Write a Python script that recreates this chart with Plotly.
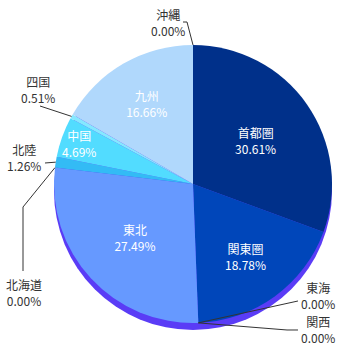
import math
import plotly.graph_objects as go

# ---- data ----
regions = ["首都圏", "関東圏", "東海", "関西", "東北", "北海道", "北陸", "中国", "四国", "九州", "沖縄"]
shares = [30.61, 18.78, 0.00, 0.00, 27.49, 0.00, 1.26, 4.69, 0.51, 16.66, 0.00]
colors = ["#00308A", "#0046BA", "#3A5FE0", "#4A70F0", "#6699FF", "#55AAF5",
          "#33BBF5", "#52DCFF", "#85E8FF", "#B0D8FC", "#C8E4FC"]
outside = ["東海", "関西", "北海道", "北陸", "四国", "沖縄"]
inside_annotated = ["中国"]  # narrow slice: keep full-size label

# ---- layout constants (pixels) ----
W, H = 340, 345
CX, CY, R = 193, 184, 139
SHADOW_DY = 7
FONT = "Noto Sans CJK JP"
label_pos = {  # label block centre and leader-line bend points (after slice anchor)
    "沖縄": ((168, 22), [(187, 22), (183, 22)]),
    "四国": ((38, 89), [(40, 106)]),
    "北陸": ((24, 158), [(45, 163)]),
    "北海道": ((24, 292), [(23, 207), (23, 271)]),
    "東海": ((318, 295), [(298, 301)]),
    "関西": ((318, 329), [(287, 330), (298, 330)]),
}

def px(x):
    return x / W

def py(y):
    return 1 - y / H

dom_x = [px(CX - R), px(CX + R)]
dom_y = [py(CY + R), py(CY - R)]

total = sum(shares)
text = []
tpos = []
for lab, v in zip(regions, shares):
    if lab in outside or lab in inside_annotated:
        text.append("")
        tpos.append("none")
    else:
        text.append(f"{lab}<br>{v:.2f}%")
        tpos.append("inside")

fig = go.Figure()
# shadow
fig.add_trace(go.Pie(
    values=[1], labels=["shadow"], sort=False,
    marker=dict(colors=["#5A3CF6"], line=dict(width=0)),
    domain=dict(x=dom_x, y=[py(CY + R + SHADOW_DY), py(CY - R + SHADOW_DY)]),
    textinfo="none", hoverinfo="skip", showlegend=False,
))
fig.add_trace(go.Pie(
    values=shares, labels=regions, sort=False, direction="clockwise", rotation=0,
    marker=dict(colors=colors, line=dict(width=0)),
    domain=dict(x=dom_x, y=dom_y),
    text=text, textinfo="text", textposition=tpos,
    insidetextorientation="horizontal",
    insidetextfont=dict(family=FONT, size=12, color="white"),
    showlegend=False,
))

cum = 0.0
annotations = []
shapes = []
for lab, v in zip(regions, shares):
    start = cum
    cum += v
    mid = (start + cum) / 2 / total * 2 * math.pi
    if lab in inside_annotated:
        half = (cum - start) / 2 / total * 2 * math.pi
        d = R / (1 + math.sin(half))  # centre of the slice's inscribed circle
        annotations.append(dict(x=px(CX + d * math.sin(mid)), y=py(CY - d * math.cos(mid)),
                                xref="paper", yref="paper", text=f"{lab}<br>{v:.2f}%",
                                showarrow=False, xanchor="center", yanchor="middle",
                                align="center",
                                font=dict(family=FONT, size=12, color="white")))
        continue
    if lab not in outside:
        continue
    ax = CX + R * math.sin(mid)
    ay = CY - R * math.cos(mid)
    (tx, ty), bends = label_pos[lab]
    pts = [(ax, ay)] + bends
    path = "M " + " L ".join(f"{px(x):.5f},{py(y):.5f}" for x, y in pts)
    shapes.append(dict(type="path", xref="paper", yref="paper", path=path,
                       line=dict(color="#333333", width=1)))
    annotations.append(dict(x=px(tx), y=py(ty), xref="paper", yref="paper",
                            text=f"{lab}<br>{v:.2f}%", showarrow=False,
                            xanchor="center", yanchor="middle", align="center",
                            font=dict(family=FONT, size=12, color="#333333")))

fig.update_layout(
    width=W, height=H, margin=dict(l=0, r=0, t=0, b=0),
    paper_bgcolor="white", plot_bgcolor="white",
    showlegend=False, annotations=annotations, shapes=shapes,
)
fig.write_html("out.html")
